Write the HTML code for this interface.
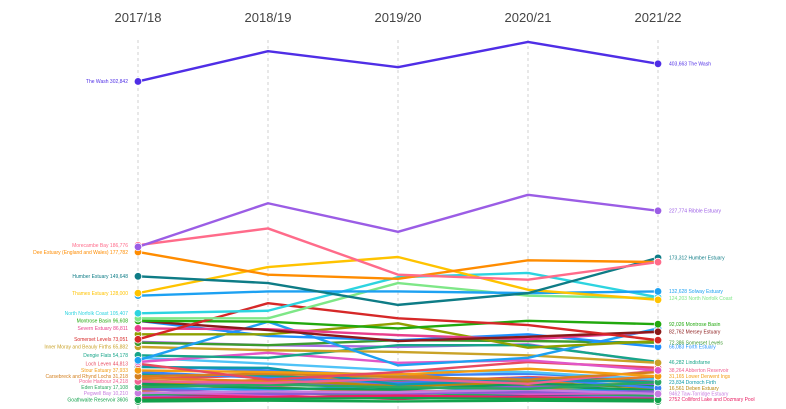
<!DOCTYPE html>
<html><head><meta charset="utf-8">
<style>
html,body{margin:0;padding:0;background:#fff;width:786px;height:409px;overflow:hidden;font-family:"Liberation Sans",sans-serif;}
svg{display:block}
</style></head>
<body>
<svg id="chart" width="786" height="409" viewBox="0 0 786 409" xmlns="http://www.w3.org/2000/svg"></svg>
<script>
const years = ["2017/18","2018/19","2019/20","2020/21","2021/22"];
const seriesNames = ["The Wash","Ribble Estuary","Morecambe Bay","Dee Estuary","Humber Estuary","Thames Estuary","Solway Estuary","North Norfolk Coast A","North Norfolk Coast","Somerset Levels A","Montrose Basin","Mersey Estuary","Severn Estuary","Olive Site","Forth Estuary","Blue Site","Somerset Levels","Inner Moray and Beauly Firths","Dengie Flats","Purple Site","Magenta Site","Loch Leven","Stour Estuary","Carsebreck and Rhynd Lochs","Poole Harbour","Eden Estuary","Pegwell Bay","Goathwaite Reservoir","Colliford Lake","Teal Site","Blue Site 3","Green Site 2","Orange Site 2","Purple Site 3","Gold Site","Light Blue Site","Site A","Site B","Site C","Site D","Site E","Site F","Site G","Site H","Site I","Site J","Site K","Site L","Site M","Site N"];
const seriesColors = ["#4f2ee6","#9b5de5","#ff6b8a","#ff8c00","#0e7c86","#ffc300","#1da1f2","#2dd4e0","#7ee787","#d62828","#22a80e","#8b1a1a","#e83e8c","#8fa000","#1e90ff","#1da1f2","#3c9a2e","#c9a227","#17a589","#a66be0","#e056c8","#e84a5f","#f39c12","#d4801f","#f06292","#2aa860","#c77ddf","#12a14b","#e91e63","#0e9aa7","#3b82f6","#0f9d58","#e67e22","#8e5ad6","#b8860b","#4fc3f7","#17a589","#e84a5f","#8e5ad6","#0f9d58","#1da1f2","#d4801f","#e056c8","#2aa860","#9b5de5","#e91e63","#0e7c86","#c9a227","#3b82f6","#12a14b"];
// values in thousands of birds
const seriesValues = [
[384,420,401,431,405],[187,239,205,249,230],[189,209,154,148,169],[181,154,149,171,169],
[152,144,118,132,174],[132,163,175,136,124],[129,134,134,132,134],[108,111,151,156,127],
[102,102,144,129,126],[77,120,102,94,76],[99,98,90,99,95],[99,88,75,80,86],
[90,89,82,77,86],[83,83,96,67,75],[99,81,76,83,68],[52,98,46,55,90],
[73,70,76,75,73],[68,64,62,58,49],[58,55,70,70,50],[74,70,68,71,49],
[50,61,49,52,40],[48,29,38,50,43],[40,38,35,42,33],[33,36,32,29,38],
[27,25,30,24,40],[20,23,20,18,26],[13,15,14,17,12],[5,6,7,6,5],
[7,8,10,8,6],[44,43,23,29,26],[38,31,25,31,19],[24,19,17,24,21],
[31,27,36,23,33],[18,12,13,14,15],[23,29,21,26,19],[55,48,40,38,29],
[35,33,29,27,31],[30,34,26,32,28],[26,22,24,20,23],[22,25,19,21,17],
[19,17,21,15,18],[16,20,14,18,14],[14,11,16,12,13],[11,14,9,13,10],
[9,7,11,8,9],[8,10,6,9,7],[12,9,8,11,8],[28,24,27,22,25],[45,40,34,36,30],[3,4,3,4,3]];
const leftLabelIdx = [0,2,3,4,5,7,10,12,9,17,18,21,22,23,24,25,26,27];
const leftLabelText = ["The Wash 302,842","Morecambe Bay 186,776","Dee Estuary (England and Wales) 177,782","Humber Estuary 149,648","Thames Estuary 128,000","North Norfolk Coast 105,407","Montrose Basin 96,608","Severn Estuary 86,811","Somerset Levels 73,051","Inner Moray and Beauly Firths 65,882","Dengie Flats 54,178","Loch Leven 44,813","Stour Estuary 37,933","Carsebreck and Rhynd Lochs 31,218","Poole Harbour 24,218","Eden Estuary 17,108","Pegwell Bay 10,210","Goathwaite Reservoir 3606"];
const rightLabelIdx = [0,1,4,6,8,10,11,16,14,18,24,22,29,34,26,28];
const rightLabelText = ["403,663 The Wash","227,774 Ribble Estuary","173,312 Humber Estuary","132,628 Solway Estuary","124,203 North Norfolk Coast","92,026 Montrose Basin","82,762 Mersey Estuary","72,386 Somerset Levels","66,083 Forth Estuary","46,282 Lindisfarne","38,264 Abberton Reservoir","31,165 Lower Derwent Ings","23,834 Dornoch Firth","16,561 Deben Estuary","9462 Taw-Torridge Estuary","2752 Colliford Lake and Dozmary Pool"];

const NS="http://www.w3.org/2000/svg";
const svg=document.getElementById('chart');
function xScale(i){return 138+i*130;}
function yScale(v){return 404-v*0.84;}
function mk(t,a){const e=document.createElementNS(NS,t);for(const k in a)e.setAttribute(k,a[k]);return e;}

years.forEach((y,i)=>{
  const g=mk('line',{x1:xScale(i),x2:xScale(i),y1:40,y2:409,stroke:'#d0d0d0','stroke-width':1,'stroke-dasharray':'3,3'});
  
  
  svg.appendChild(g);
  const t=mk('text',{x:xScale(i),y:22,'text-anchor':'middle','font-size':13,fill:'#444'});
  t.textContent=y;
  
  
  svg.appendChild(t);
});

for(let s=seriesValues.length-1;s>=0;s--){
  const vals=seriesValues[s];
  const pts=vals.map((v,i)=>xScale(i)+','+yScale(v)).join(' ');
  const pl=mk('polyline',{points:pts,fill:'none',stroke:seriesColors[s],'stroke-width':2.4,'stroke-linejoin':'round'});
  
  
  svg.appendChild(pl);
  [0,vals.length-1].forEach(i=>{
    const c=mk('circle',{cx:xScale(i),cy:yScale(vals[i]),r:3.8,fill:seriesColors[s],stroke:'#fff','stroke-width':0.8});
    
    
    svg.appendChild(c);
  });
}

leftLabelIdx.forEach((s,k)=>{
  const t=mk('text',{x:128,y:yScale(seriesValues[s][0])+1.8,'text-anchor':'end','font-size':5,fill:seriesColors[s]});
  t.textContent=leftLabelText[k];
  
  
  svg.appendChild(t);
});
rightLabelIdx.forEach((s,k)=>{
  const t=mk('text',{x:669,y:yScale(seriesValues[s][4])+1.8,'text-anchor':'start','font-size':5,fill:seriesColors[s]});
  t.textContent=rightLabelText[k];
  
  
  svg.appendChild(t);
});
</script>
</body></html>
